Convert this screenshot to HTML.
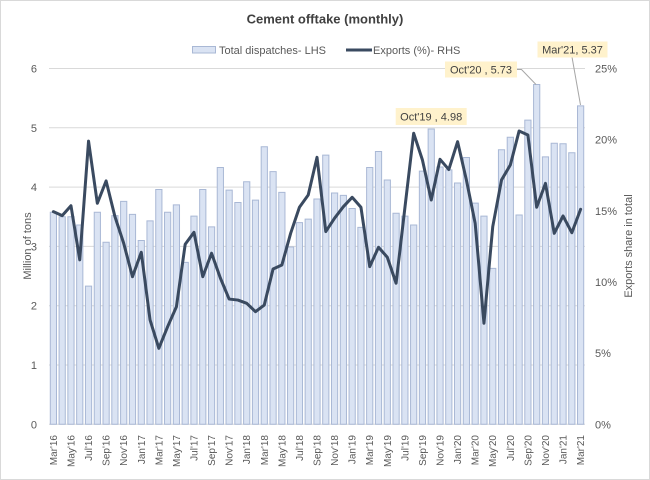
<!DOCTYPE html>
<html>
<head>
<meta charset="utf-8">
<style>
  html,body{margin:0;padding:0;background:#fff;}
  svg{display:block;}
  text{font-family:"Liberation Sans",Arial,sans-serif;fill:#595959;}
</style>
</head>
<body>
<svg width="650" height="480" viewBox="0 0 650 480" xmlns="http://www.w3.org/2000/svg">
  <rect x="0.5" y="0.5" width="649" height="479" fill="#fff" stroke="#d9d9d9"/>

  <!-- Title -->
  <text x="325" y="23.5" font-size="13" font-weight="bold" text-anchor="middle" style="fill:#404040">Cement offtake (monthly)</text>

  <!-- Legend -->
  <rect x="192.5" y="46.5" width="23" height="6.5" fill="#dae3f3" stroke="#a9b8d5" stroke-width="1"/>
  <text x="219" y="54" font-size="11">Total dispatches- LHS</text>
  <line x1="346" y1="50" x2="372" y2="50" stroke="#3a4a60" stroke-width="3"/>
  <text x="373" y="54" font-size="11">Exports (%)- RHS</text>

  <!-- Gridlines -->
  <g stroke="#d9d9d9" stroke-width="1">
    <line x1="49" y1="68.5" x2="585" y2="68.5"/>
    <line x1="49" y1="127.8" x2="585" y2="127.8"/>
    <line x1="49" y1="187.1" x2="585" y2="187.1"/>
    <line x1="49" y1="246.4" x2="585" y2="246.4"/>
    <line x1="49" y1="305.7" x2="585" y2="305.7"/>
    <line x1="49" y1="365" x2="585" y2="365"/>
    <line x1="49" y1="424.3" x2="585" y2="424.3"/>
  </g>

  <!-- Left axis labels -->
  <g font-size="11" text-anchor="end">
    <text x="37" y="72.5">6</text>
    <text x="37" y="131.8">5</text>
    <text x="37" y="191.1">4</text>
    <text x="37" y="250.4">3</text>
    <text x="37" y="309.7">2</text>
    <text x="37" y="369">1</text>
    <text x="37" y="428.3">0</text>
  </g>
  <text transform="translate(31,246) rotate(-90)" font-size="11" text-anchor="middle">Million of tons</text>

  <!-- Right axis labels -->
  <g font-size="11">
    <text x="595" y="72.5">25%</text>
    <text x="595" y="143.7">20%</text>
    <text x="595" y="214.8">15%</text>
    <text x="595" y="285.9">10%</text>
    <text x="595" y="357.1">5%</text>
    <text x="595" y="428.3">0%</text>
  </g>
  <text transform="translate(632,246) rotate(-90)" font-size="11" text-anchor="middle">Exports share in total</text>

  <!-- Bars -->
  <g transform="translate(49,424.3) scale(8.787,-59.3)" fill="#dae3f3" stroke="#a9b8d5" stroke-width="1">
    <rect vector-effect="non-scaling-stroke" x="0.147" y="0" width="0.706" height="3.575"/>
    <rect vector-effect="non-scaling-stroke" x="1.147" y="0" width="0.706" height="3.50"/>
    <rect vector-effect="non-scaling-stroke" x="2.147" y="0" width="0.706" height="3.50"/>
    <rect vector-effect="non-scaling-stroke" x="3.147" y="0" width="0.706" height="3.36"/>
    <rect vector-effect="non-scaling-stroke" x="4.147" y="0" width="0.706" height="2.33"/>
    <rect vector-effect="non-scaling-stroke" x="5.147" y="0" width="0.706" height="3.575"/>
    <rect vector-effect="non-scaling-stroke" x="6.147" y="0" width="0.706" height="3.07"/>
    <rect vector-effect="non-scaling-stroke" x="7.147" y="0" width="0.706" height="3.52"/>
    <rect vector-effect="non-scaling-stroke" x="8.147" y="0" width="0.706" height="3.76"/>
    <rect vector-effect="non-scaling-stroke" x="9.147" y="0" width="0.706" height="3.54"/>
    <rect vector-effect="non-scaling-stroke" x="10.147" y="0" width="0.706" height="3.10"/>
    <rect vector-effect="non-scaling-stroke" x="11.147" y="0" width="0.706" height="3.43"/>
    <rect vector-effect="non-scaling-stroke" x="12.147" y="0" width="0.706" height="3.96"/>
    <rect vector-effect="non-scaling-stroke" x="13.147" y="0" width="0.706" height="3.575"/>
    <rect vector-effect="non-scaling-stroke" x="14.147" y="0" width="0.706" height="3.70"/>
    <rect vector-effect="non-scaling-stroke" x="15.147" y="0" width="0.706" height="2.73"/>
    <rect vector-effect="non-scaling-stroke" x="16.147" y="0" width="0.706" height="3.51"/>
    <rect vector-effect="non-scaling-stroke" x="17.147" y="0" width="0.706" height="3.96"/>
    <rect vector-effect="non-scaling-stroke" x="18.147" y="0" width="0.706" height="3.33"/>
    <rect vector-effect="non-scaling-stroke" x="19.147" y="0" width="0.706" height="4.33"/>
    <rect vector-effect="non-scaling-stroke" x="20.147" y="0" width="0.706" height="3.95"/>
    <rect vector-effect="non-scaling-stroke" x="21.147" y="0" width="0.706" height="3.74"/>
    <rect vector-effect="non-scaling-stroke" x="22.147" y="0" width="0.706" height="4.09"/>
    <rect vector-effect="non-scaling-stroke" x="23.147" y="0" width="0.706" height="3.78"/>
    <rect vector-effect="non-scaling-stroke" x="24.147" y="0" width="0.706" height="4.68"/>
    <rect vector-effect="non-scaling-stroke" x="25.147" y="0" width="0.706" height="4.26"/>
    <rect vector-effect="non-scaling-stroke" x="26.147" y="0" width="0.706" height="3.91"/>
    <rect vector-effect="non-scaling-stroke" x="27.147" y="0" width="0.706" height="2.99"/>
    <rect vector-effect="non-scaling-stroke" x="28.147" y="0" width="0.706" height="3.40"/>
    <rect vector-effect="non-scaling-stroke" x="29.147" y="0" width="0.706" height="3.46"/>
    <rect vector-effect="non-scaling-stroke" x="30.147" y="0" width="0.706" height="3.80"/>
    <rect vector-effect="non-scaling-stroke" x="31.147" y="0" width="0.706" height="4.54"/>
    <rect vector-effect="non-scaling-stroke" x="32.147" y="0" width="0.706" height="3.90"/>
    <rect vector-effect="non-scaling-stroke" x="33.147" y="0" width="0.706" height="3.86"/>
    <rect vector-effect="non-scaling-stroke" x="34.147" y="0" width="0.706" height="3.64"/>
    <rect vector-effect="non-scaling-stroke" x="35.147" y="0" width="0.706" height="3.32"/>
    <rect vector-effect="non-scaling-stroke" x="36.147" y="0" width="0.706" height="4.33"/>
    <rect vector-effect="non-scaling-stroke" x="37.147" y="0" width="0.706" height="4.60"/>
    <rect vector-effect="non-scaling-stroke" x="38.147" y="0" width="0.706" height="4.12"/>
    <rect vector-effect="non-scaling-stroke" x="39.147" y="0" width="0.706" height="3.56"/>
    <rect vector-effect="non-scaling-stroke" x="40.147" y="0" width="0.706" height="3.51"/>
    <rect vector-effect="non-scaling-stroke" x="41.147" y="0" width="0.706" height="3.36"/>
    <rect vector-effect="non-scaling-stroke" x="42.147" y="0" width="0.706" height="4.27"/>
    <rect vector-effect="non-scaling-stroke" x="43.147" y="0" width="0.706" height="4.98"/>
    <rect vector-effect="non-scaling-stroke" x="44.147" y="0" width="0.706" height="4.34"/>
    <rect vector-effect="non-scaling-stroke" x="45.147" y="0" width="0.706" height="4.29"/>
    <rect vector-effect="non-scaling-stroke" x="46.147" y="0" width="0.706" height="4.07"/>
    <rect vector-effect="non-scaling-stroke" x="47.147" y="0" width="0.706" height="4.50"/>
    <rect vector-effect="non-scaling-stroke" x="48.147" y="0" width="0.706" height="3.73"/>
    <rect vector-effect="non-scaling-stroke" x="49.147" y="0" width="0.706" height="3.51"/>
    <rect vector-effect="non-scaling-stroke" x="50.147" y="0" width="0.706" height="2.63"/>
    <rect vector-effect="non-scaling-stroke" x="51.147" y="0" width="0.706" height="4.63"/>
    <rect vector-effect="non-scaling-stroke" x="52.147" y="0" width="0.706" height="4.84"/>
    <rect vector-effect="non-scaling-stroke" x="53.147" y="0" width="0.706" height="3.53"/>
    <rect vector-effect="non-scaling-stroke" x="54.147" y="0" width="0.706" height="5.13"/>
    <rect vector-effect="non-scaling-stroke" x="55.147" y="0" width="0.706" height="5.73"/>
    <rect vector-effect="non-scaling-stroke" x="56.147" y="0" width="0.706" height="4.51"/>
    <rect vector-effect="non-scaling-stroke" x="57.147" y="0" width="0.706" height="4.74"/>
    <rect vector-effect="non-scaling-stroke" x="58.147" y="0" width="0.706" height="4.73"/>
    <rect vector-effect="non-scaling-stroke" x="59.147" y="0" width="0.706" height="4.58"/>
    <rect vector-effect="non-scaling-stroke" x="60.147" y="0" width="0.706" height="5.37"/>
  </g>

  <!-- Exports line -->
  <g transform="translate(49,424.3) scale(8.787,-14.232)">
    <polyline vector-effect="non-scaling-stroke" fill="none" stroke="#3a4a60" stroke-width="3" stroke-linejoin="round" stroke-linecap="round"
      points="0.5,14.94 1.5,14.66 2.5,15.36 3.5,11.55 4.5,19.9 5.5,15.53 6.5,17.1 7.5,14.6 8.5,12.72 9.5,10.37 10.5,12.09 11.5,7.33 12.5,5.34 13.5,6.86 14.5,8.26 15.5,12.65 16.5,13.49 17.5,10.37 18.5,12.02 19.5,10.28 20.5,8.8 21.5,8.73 22.5,8.5 23.5,7.91 24.5,8.38 25.5,10.91 26.5,11.19 27.5,13.42 28.5,15.25 29.5,16.11 30.5,18.76 31.5,13.54 32.5,14.48 33.5,15.29 34.5,15.95 35.5,15.25 36.5,11.08 37.5,12.44 38.5,11.74 39.5,9.91 40.5,15.2 41.5,20.45 42.5,18.57 43.5,15.76 44.5,18.62 45.5,17.9 46.5,19.86 47.5,17.17 48.5,14.12 49.5,7.1 50.5,13.89 51.5,17.17 52.5,18.22 53.5,20.61 54.5,20.33 55.5,15.25 56.5,16.93 57.5,13.42 58.5,14.64 59.5,13.46 60.5,15.11"/>
  </g>

  <!-- Data labels -->
  <g stroke="#a6a6a6" stroke-width="1" fill="none">
    <polyline points="517,69.5 521.5,69.5 536,84.5"/>
    <line x1="572" y1="57" x2="580.5" y2="105"/>
  </g>
  <rect x="395.7" y="108" width="71" height="17" fill="#fff2cc"/>
  <text x="431.2" y="120.5" font-size="11" text-anchor="middle" style="fill:#404040">Oct'19 , 4.98</text>
  <rect x="445" y="61.5" width="72" height="16" fill="#fff2cc"/>
  <text x="481" y="73.5" font-size="11" text-anchor="middle" style="fill:#404040">Oct'20 , 5.73</text>
  <rect x="537.5" y="41.5" width="70" height="16" fill="#fff2cc"/>
  <text x="572.5" y="53.5" font-size="11" text-anchor="middle" style="fill:#404040">Mar'21, 5.37</text>

  <!-- X axis labels -->
  <g font-size="10" text-anchor="end">
    <text transform="translate(53.39,435) rotate(-90)" dy="0.35em">Mar'16</text>
    <text transform="translate(70.97,435) rotate(-90)" dy="0.35em">May'16</text>
    <text transform="translate(88.54,435) rotate(-90)" dy="0.35em">Jul'16</text>
    <text transform="translate(106.12,435) rotate(-90)" dy="0.35em">Sep'16</text>
    <text transform="translate(123.69,435) rotate(-90)" dy="0.35em">Nov'16</text>
    <text transform="translate(141.26,435) rotate(-90)" dy="0.35em">Jan'17</text>
    <text transform="translate(158.84,435) rotate(-90)" dy="0.35em">Mar'17</text>
    <text transform="translate(176.41,435) rotate(-90)" dy="0.35em">May'17</text>
    <text transform="translate(193.99,435) rotate(-90)" dy="0.35em">Jul'17</text>
    <text transform="translate(211.56,435) rotate(-90)" dy="0.35em">Sep'17</text>
    <text transform="translate(229.13,435) rotate(-90)" dy="0.35em">Nov'17</text>
    <text transform="translate(246.71,435) rotate(-90)" dy="0.35em">Jan'18</text>
    <text transform="translate(264.28,435) rotate(-90)" dy="0.35em">Mar'18</text>
    <text transform="translate(281.85,435) rotate(-90)" dy="0.35em">May'18</text>
    <text transform="translate(299.43,435) rotate(-90)" dy="0.35em">Jul'18</text>
    <text transform="translate(317.00,435) rotate(-90)" dy="0.35em">Sep'18</text>
    <text transform="translate(334.58,435) rotate(-90)" dy="0.35em">Nov'18</text>
    <text transform="translate(352.15,435) rotate(-90)" dy="0.35em">Jan'19</text>
    <text transform="translate(369.72,435) rotate(-90)" dy="0.35em">Mar'19</text>
    <text transform="translate(387.30,435) rotate(-90)" dy="0.35em">May'19</text>
    <text transform="translate(404.87,435) rotate(-90)" dy="0.35em">Jul'19</text>
    <text transform="translate(422.45,435) rotate(-90)" dy="0.35em">Sep'19</text>
    <text transform="translate(440.02,435) rotate(-90)" dy="0.35em">Nov'19</text>
    <text transform="translate(457.59,435) rotate(-90)" dy="0.35em">Jan'20</text>
    <text transform="translate(475.17,435) rotate(-90)" dy="0.35em">Mar'20</text>
    <text transform="translate(492.74,435) rotate(-90)" dy="0.35em">May'20</text>
    <text transform="translate(510.32,435) rotate(-90)" dy="0.35em">Jul'20</text>
    <text transform="translate(527.89,435) rotate(-90)" dy="0.35em">Sep'20</text>
    <text transform="translate(545.46,435) rotate(-90)" dy="0.35em">Nov'20</text>
    <text transform="translate(563.04,435) rotate(-90)" dy="0.35em">Jan'21</text>
    <text transform="translate(580.61,435) rotate(-90)" dy="0.35em">Mar'21</text>
  </g>
</svg>
</body>
</html>
